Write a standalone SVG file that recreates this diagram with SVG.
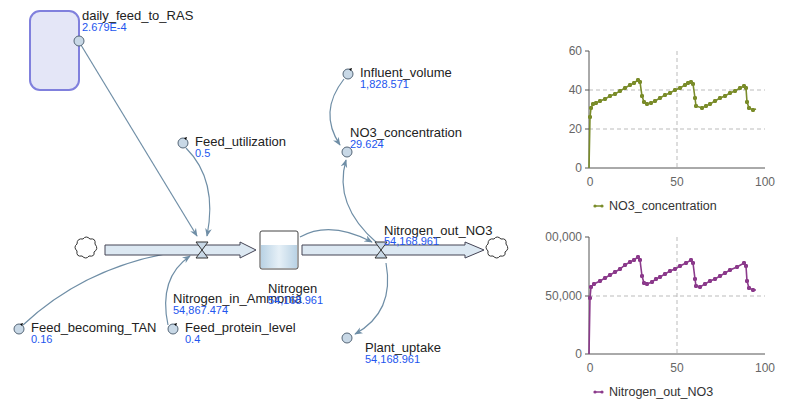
<svg xmlns="http://www.w3.org/2000/svg" width="800" height="403" viewBox="0 0 800 403">
<style>
text{font-family:"Liberation Sans",Arial,sans-serif}
.lb{font-size:13px;fill:#222}
.v{font-size:11px;fill:#2255ee}
.aux{fill:#c8d8e6;stroke:#556677;stroke-width:1}
.con{fill:none;stroke:#6f8ea6;stroke-width:1.2;marker-end:url(#ah)}
.pipe{fill:#dce8f2;stroke:#445;stroke-width:1}
.grid{stroke:#bbb;stroke-dasharray:4 3;stroke-width:1}
.ax{stroke:#555;stroke-width:1;fill:none}
.tk{font-size:12px;fill:#666}
.cld{fill:#fff;stroke:#333;stroke-width:1}
</style>
<defs>
<marker id="ah" viewBox="0 0 10 10" refX="9" refY="5" markerWidth="7" markerHeight="7" orient="auto"><path d="M0,1 L10,5 L0,9 L3,5 z" fill="#6f8ea6"/></marker>
<marker id="dg" viewBox="0 0 4 4" refX="2" refY="2" markerWidth="3" markerHeight="3"><circle cx="2" cy="2" r="1.8" fill="#7a8c2a"/></marker>
<marker id="dp" viewBox="0 0 4 4" refX="2" refY="2" markerWidth="3" markerHeight="3"><circle cx="2" cy="2" r="1.8" fill="#8b3a8b"/></marker>
<linearGradient id="sg" x1="0" x2="1"><stop offset="0" stop-color="#b9d2e4"/><stop offset="0.5" stop-color="#e6f0f7"/><stop offset="1" stop-color="#b9d2e4"/></linearGradient>
</defs>
<g id="module"><rect x="30" y="11" width="49" height="79" rx="10" fill="#e4e6f7" stroke="#8080dd" stroke-width="2"/></g>
<g id="connectors">
<path class="con" d="M81,45 L197,236"/>
<path class="con" d="M186,148 Q218,180 207,236"/>
<path class="con" d="M23,325 Q90,262 190,250"/>
<path class="con" d="M168,325 Q158,278 190,256"/>
<path class="con" d="M300,237 Q330,220 372,242"/>
<path class="con" d="M344,79 Q318,112 340,145"/>
<path class="con" d="M377,243 Q333,205 346,160"/>
<path class="con" d="M386,263 Q395,312 355,334"/>
</g>
<g id="flow_in">
<path class="pipe" d="M105,245 L240,245 L240,242 L256,250 L240,258 L240,255 L105,255 z"/>
<path d="M196,242 L208,242 L196,258 L208,258 z" fill="#c8d8e6" stroke="#333"/>
<path class="cld" d="M77,244 q0,-6 6,-5 q3,-4 7,0 q6,-1 5,5 q4,5 -1,8 q1,5 -5,4 q-3,4 -7,0 q-6,1 -5,-5 q-4,-4 0,-7z"/>
<text class="lb" x="173" y="303">Nitrogen_in_Ammonia</text><text class="v" x="173" y="314">54,867.474</text>
</g>
<g id="stock"><rect x="260" y="231" width="38" height="38" rx="2" fill="#fff" stroke="#444"/><rect x="261" y="245" width="36" height="23" fill="url(#sg)"/>
<text class="lb" x="268" y="293">Nitrogen</text><text class="v" x="268" y="304">54,168.961</text></g>
<g id="flow_out">
<path class="pipe" d="M302,245 L465,245 L465,242 L484,250 L465,258 L465,255 L302,255 z"/>
<path d="M375,242 L387,242 L375,258 L387,258 z" fill="#c8d8e6" stroke="#333"/>
<path class="cld" d="M488,244 q0,-6 6,-5 q3,-4 7,0 q6,-1 5,5 q4,5 -1,8 q1,5 -5,4 q-3,4 -7,0 q-6,1 -5,-5 q-4,-4 0,-7z"/>
<text class="lb" x="384" y="235">Nitrogen_out_NO3</text><text class="v" x="384" y="245">54,168.961</text>
</g>
<g id="daily_feed"><circle class="aux" cx="79" cy="41" r="5"/><text class="lb" x="82" y="20">daily_feed_to_RAS</text><text class="v" x="82" y="31">2.679E-4</text></g>
<g id="feed_util"><circle class="aux" cx="183" cy="143" r="5"/><path d="M184,138 l3,-1 -1,3z" fill="#000"/><text class="lb" x="195" y="146">Feed_utilization</text><text class="v" x="195" y="157">0.5</text></g>
<g id="influent"><circle class="aux" cx="348" cy="74" r="5"/><path d="M349,69 l3,-1 -1,3z" fill="#000"/><text class="lb" x="360" y="77">Influent_volume</text><text class="v" x="360" y="88">1,828.571</text></g>
<g id="no3"><circle class="aux" cx="347" cy="152" r="5"/><text class="lb" x="350" y="137">NO3_concentration</text><text class="v" x="350" y="148">29.624</text></g>
<g id="tan"><circle class="aux" cx="19" cy="329" r="5"/><path d="M20,324 l3,-1 -1,3z" fill="#000"/><text class="lb" x="31" y="332">Feed_becoming_TAN</text><text class="v" x="31" y="343">0.16</text></g>
<g id="protein"><circle class="aux" cx="173" cy="329" r="5"/><path d="M174,324 l3,-1 -1,3z" fill="#000"/><text class="lb" x="185" y="332">Feed_protein_level</text><text class="v" x="185" y="343">0.4</text></g>
<g id="plant"><circle class="aux" cx="347" cy="338" r="5"/><text class="lb" x="365" y="352">Plant_uptake</text><text class="v" x="365" y="363">54,168.961</text></g>
<g id="chart1">
<line class="grid" x1="589" y1="90" x2="765" y2="90"/><line class="grid" x1="589" y1="129" x2="765" y2="129"/><line class="grid" x1="677" y1="51" x2="677" y2="168"/>
<path class="ax" d="M589,51 L589,168 L765,168 M589,51 L585,51 M589,90 L585,90 M589,129 L585,129 M589,168 L585,168"/>
<g class="tk" text-anchor="end"><text x="582" y="55">60</text><text x="582" y="94">40</text><text x="582" y="133">20</text><text x="582" y="172">0</text></g>
<g class="tk" text-anchor="middle"><text x="590" y="186">0</text><text x="677" y="186">50</text><text x="765" y="186">100</text></g>
<polyline fill="none" stroke="#7a8c2a" stroke-width="1.6" marker-mid="url(#dg)" points="589,168 590,117 591,108 593,104 596,103 600,101 605,99 610,96 615,94 620,91 625,88 630,85 634,83 638,80 640,82 642,96 644,102 647,104 651,103 655,101 660,98 665,95 670,93 675,90 680,88 685,85 688,83 691,82 693,84 695,98 696,106 702,108 706,106 710,104 715,101 720,98 725,96 730,93 735,91 740,88 744,86 746,88 747,102 749,108 753,110 756,109"/>
<line x1="594" y1="206" x2="603" y2="206" stroke="#7a8c2a" stroke-width="1.5"/><circle cx="595" cy="206" r="1.6" fill="#7a8c2a"/><circle cx="602" cy="206" r="1.6" fill="#7a8c2a"/>
<text x="609" y="210" font-size="12.5" fill="#333">NO3_concentration</text>
</g>
<g id="chart2">
<line class="grid" x1="589" y1="296" x2="765" y2="296"/><line class="grid" x1="677" y1="237" x2="677" y2="354"/>
<path class="ax" d="M589,237 L589,354 L765,354 M589,237 L585,237 M589,296 L585,296 M589,354 L585,354"/>
<g class="tk" text-anchor="end"><text x="582" y="241">00,000</text><text x="582" y="300">50,000</text><text x="582" y="358">0</text></g>
<g class="tk" text-anchor="middle"><text x="590" y="372">0</text><text x="677" y="372">50</text><text x="765" y="372">100</text></g>
<polyline fill="none" stroke="#8b3a8b" stroke-width="1.6" marker-mid="url(#dp)" points="589,354 590,298 591,287 594,284 600,281 605,278 610,275 615,272 620,269 625,265 630,262 634,260 638,257 640,260 642,276 644,283 647,284 652,282 656,279 660,277 665,274 670,271 675,269 680,266 686,263 691,260 693,263 695,279 696,286 700,287 705,284 710,281 715,279 720,276 725,273 730,270 737,267 744,263 746,266 747,281 749,288 753,290 756,290"/>
<line x1="594" y1="392" x2="603" y2="392" stroke="#8b3a8b" stroke-width="1.5"/><circle cx="595" cy="392" r="1.6" fill="#8b3a8b"/><circle cx="602" cy="392" r="1.6" fill="#8b3a8b"/>
<text x="609" y="396" font-size="12.5" fill="#333">Nitrogen_out_NO3</text>
</g>
</svg>
